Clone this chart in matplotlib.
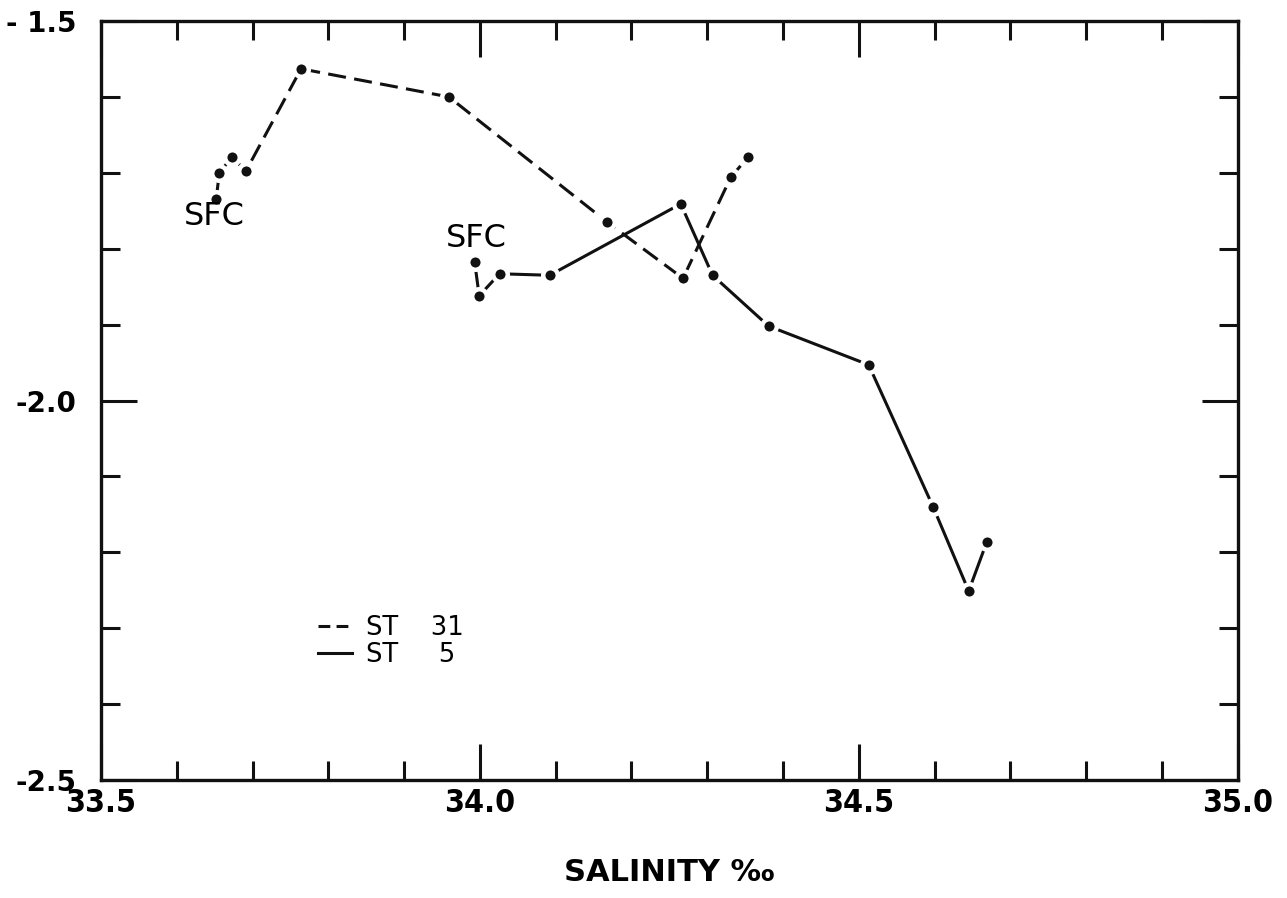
import matplotlib
matplotlib.use("Agg")
import matplotlib.pyplot as plt
from matplotlib.lines import Line2D
from matplotlib.ticker import MultipleLocator, FixedLocator, FixedFormatter

plt.rcParams['lines.scale_dashes'] = False
plt.rcParams['font.family'] = ['DejaVu Sans']

# station 31 (dashed), surface first
st31_sal = [33.652, 33.656, 33.673, 33.691, 33.764, 33.959, 34.168, 34.268, 34.331, 34.354]
st31_temp = [-1.735, -1.700, -1.679, -1.698, -1.563, -1.600, -1.765, -1.839, -1.706, -1.679]

# station 5 (solid), surface first
st5_sal = [33.993, 33.999, 34.026, 34.092, 34.265, 34.307, 34.381, 34.513, 34.598, 34.645, 34.669]
st5_temp = [-1.817, -1.862, -1.833, -1.835, -1.741, -1.835, -1.902, -1.953, -2.140, -2.251, -2.186]

xticks = [33.5, 34.0, 34.5, 35.0]
xlabels = ['33.5', '34.0', '34.5', '35.0']
yticks = [-2.5, -2.0, -1.5]
ylabels = ['-2.5', '-2.0', '- 1.5']

fig = plt.figure(figsize=(12.87, 8.98), dpi=100)
ax = fig.add_axes([0.0785, 0.1314, 0.8832, 0.8452])

lw = 2.2
ax.plot(st31_sal, st31_temp, color='#111111', lw=lw, ls=(0, (13, 6)), zorder=2)
ax.plot(st5_sal, st5_temp, color='#111111', lw=lw, zorder=2)
# dots with a white ring so the lines stop short of them
for xs, ys in [(st31_sal, st31_temp), (st5_sal, st5_temp)]:
    ax.plot(xs, ys, 'o', ms=10.5, mfc='#111111', mec='white', mew=3.2, zorder=3)

ax.text(33.649, -1.757, 'SFC', fontsize=23, ha='center', va='center')
ax.text(33.995, -1.786, 'SFC', fontsize=23, ha='center', va='center')

handles = [Line2D([], [], color='#111111', lw=lw, ls=(0, (8.5, 4.5))),
           Line2D([], [], color='#111111', lw=lw)]
ax.legend(handles, ['ST    31', 'ST     5'], loc='upper left',
          bbox_to_anchor=(0.191, 0.218), frameon=False, fontsize=18.5,
          handlelength=1.3, handletextpad=0.55, labelspacing=0.05,
          borderpad=0, borderaxespad=0)

ax.set_xlim(33.5, 35.0)
ax.set_ylim(-2.5, -1.5)
ax.xaxis.set_major_locator(FixedLocator(xticks))
ax.xaxis.set_major_formatter(FixedFormatter(xlabels))
ax.yaxis.set_major_locator(FixedLocator(yticks))
ax.yaxis.set_major_formatter(FixedFormatter(ylabels))
ax.xaxis.set_minor_locator(MultipleLocator(0.1))
ax.yaxis.set_minor_locator(MultipleLocator(0.1))

ax.tick_params(which='both', direction='in', top=True, right=True, width=2.2, color='#111111')
ax.tick_params(which='major', length=26)
ax.tick_params(which='minor', length=14)
ax.tick_params(axis='x', which='major', pad=6)
ax.tick_params(axis='y', which='major', pad=18)
for lab in ax.get_xticklabels():
    lab.set_fontsize(23)
    lab.set_fontweight('bold')
    lab.set_fontstretch('condensed')
for lab in ax.get_yticklabels():
    lab.set_fontsize(20)
    lab.set_fontweight('bold')
for s in ax.spines.values():
    s.set_linewidth(2.4)
    s.set_color('#111111')

ax.set_xlabel('SALINITY ‰', fontsize=22, fontweight='bold', labelpad=28)

fig.savefig('out.png', dpi=100)
